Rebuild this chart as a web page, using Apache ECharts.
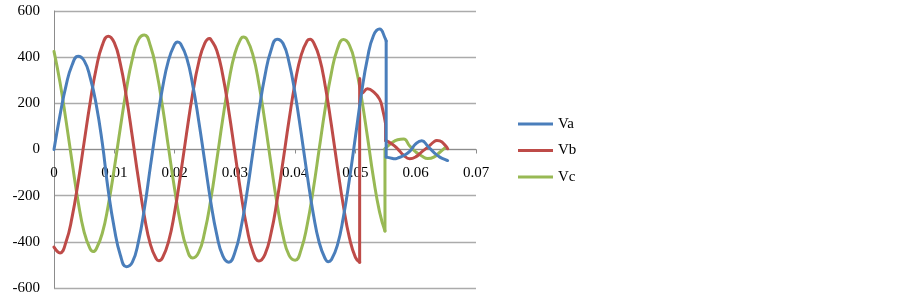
<!DOCTYPE html>
<html>
<head>
<meta charset="utf-8">
<script src="https://cdn.jsdelivr.net/npm/echarts@6/dist/echarts.min.js"></script>
<style>html,body{margin:0;padding:0;background:#fff}#c{width:902px;height:297px}</style>
</head>
<body>
<div id="c"></div>
<script>
const seriesNames = ['Va', 'Vb', 'Vc'];
const xTicks = [0, 0.01, 0.02, 0.03, 0.04, 0.05, 0.06, 0.07];
const yTicks = [-600, -400, -200, 0, 200, 400, 600];

const tVa = [0,0.001,0.002,0.003,0.004,0.005,0.006,0.007,0.008,0.009,0.010,0.011,0.012,0.013,0.014,0.015,0.016,0.017,0.018,0.019,0.020,0.0205,0.021,0.022,0.023,0.024,0.025,0.026,0.027,0.028,0.029,0.030,0.031,0.032,0.033,0.034,0.035,0.036,0.037,0.038,0.039,0.040,0.041,0.042,0.043,0.044,0.045,0.0455,0.046,0.047,0.048,0.049,0.050,0.051,0.052,0.053,0.054,0.055,0.0551,0.0551,0.056,0.0565,0.057,0.058,0.059,0.060,0.061,0.062,0.063,0.064,0.065,0.0653];
const va = [0,149,277,366,404,385,312,195,30,-178,-341,-457,-508,-488,-400,-255,-72,106,266,387,455,466,458,398,281,125,-51,-226,-369,-461,-488,-446,-342,-189,-10,168,321,430,478,459,376,240,70,-111,-277,-404,-474,-486,-478,-415,-293,-130,55,242,396,494,522,478,470,-33,-38,-40,-37,-26,-8,24,38,14,-12,-33,-45,-48];

const tVb = [0,0.001,0.002,0.003,0.004,0.005,0.006,0.007,0.008,0.009,0.010,0.011,0.012,0.013,0.014,0.015,0.016,0.017,0.0174,0.018,0.019,0.020,0.021,0.022,0.023,0.024,0.025,0.0258,0.026,0.027,0.028,0.029,0.030,0.031,0.032,0.033,0.034,0.035,0.036,0.037,0.038,0.039,0.040,0.041,0.042,0.0425,0.043,0.044,0.045,0.046,0.047,0.048,0.049,0.050,0.0507,0.0507,0.0512,0.052,0.053,0.054,0.0545,0.055,0.055,0.056,0.057,0.058,0.059,0.060,0.061,0.062,0.063,0.0635,0.064,0.065,0.0653];
const vb = [-423,-448,-400,-293,-142,32,204,351,451,491,463,372,229,54,-127,-290,-412,-475,-482,-469,-399,-273,-108,72,241,377,460,481,478,429,321,166,-12,-189,-339,-443,-483,-454,-363,-221,-49,130,290,409,471,478,466,400,274,108,-73,-244,-382,-467,-488,306,245,263,250,218,175,112,39,25,3,-25,-40,-32,-10,10,33,39,37,15,3];

const tVc = [0,0.001,0.002,0.003,0.004,0.005,0.006,0.0065,0.007,0.008,0.009,0.010,0.011,0.012,0.013,0.014,0.015,0.016,0.017,0.018,0.019,0.020,0.021,0.022,0.023,0.024,0.025,0.026,0.027,0.028,0.029,0.030,0.031,0.0314,0.032,0.033,0.034,0.035,0.036,0.037,0.038,0.039,0.040,0.041,0.042,0.043,0.044,0.045,0.046,0.047,0.048,0.049,0.050,0.051,0.052,0.053,0.054,0.0549,0.0549,0.056,0.057,0.058,0.059,0.060,0.061,0.062,0.063,0.064,0.065];
const vc = [425,290,124,-54,-225,-358,-431,-442,-431,-364,-242,-82,93,259,393,476,496,448,340,186,7,-170,-322,-427,-470,-446,-357,-218,-46,133,294,416,480,487,477,409,283,118,-63,-235,-374,-459,-480,-433,-326,-174,4,180,330,434,476,452,364,225,54,-125,-270,-353,3,28,42,45,15,-10,-28,-39,-33,-12,10];

const colors = ['#4a7ebb', '#be4b48', '#98b954'];
const times = [tVa, tVb, tVc];
const vals = [va, vb, vc];

// Split each trace at its jumps (two samples with the same time):
// smooth pieces are separated by null, the jumps are straight segments.
function build(t, v) {
  const smoothData = [], jumps = [];
  for (let i = 0; i < t.length; i++) {
    if (i > 0 && t[i] === t[i - 1]) {
      smoothData.push(null);
      jumps.push([[t[i - 1], v[i - 1]], [t[i], v[i]]]);
    }
    smoothData.push([t[i], v[i]]);
  }
  return {smoothData, jumps};
}

const series = [];
seriesNames.forEach((n, i) => {
  const b = build(times[i], vals[i]);
  series.push({
    name: n, type: 'line', data: b.smoothData, connectNulls: false,
    showSymbol: false, smooth: 0.5,
    lineStyle: {color: colors[i], width: 3, cap: 'round', join: 'round'},
    itemStyle: {color: colors[i]}, z: 5 - i
  });
  b.jumps.forEach(seg => series.push({
    name: n, type: 'line', data: seg, showSymbol: false, smooth: false,
    lineStyle: {color: colors[i], width: 3, cap: 'round'},
    itemStyle: {color: colors[i]}, z: 5 - i
  }));
});

const chart = echarts.init(document.getElementById('c'), null, {renderer: 'canvas'});
const font = '"Liberation Serif", "Times New Roman", serif';
chart.setOption({
  animation: false,
  backgroundColor: '#fff',
  grid: {left: 54, right: 426, top: 11, bottom: 9, containLabel: false},
  xAxis: {
    type: 'value', min: xTicks[0], max: xTicks[xTicks.length - 1], interval: 0.01,
    offset: -138.5,
    axisLine: {onZero: false, lineStyle: {color: '#8c8c8c', width: 1}},
    axisTick: {show: true, inside: false, length: 4, lineStyle: {color: '#8c8c8c'}},
    splitLine: {show: false},
    axisLabel: {color: '#000', fontFamily: font, fontSize: 15, margin: 16,
      formatter: v => String(parseFloat(v.toFixed(2)))}
  },
  yAxis: {
    type: 'value', min: yTicks[0], max: yTicks[yTicks.length - 1], interval: 200,
    axisLine: {show: true, lineStyle: {color: '#8c8c8c', width: 1}},
    axisTick: {show: false},
    splitLine: {show: true, lineStyle: {color: '#ababab', width: 1.3}},
    axisLabel: {color: '#000', fontFamily: font, fontSize: 15, margin: 14}
  },
  legend: {
    orient: 'vertical', left: 513, top: 111,
    itemWidth: 35, itemHeight: 3, itemGap: 10.5, icon: 'rect',
    textStyle: {color: '#000', fontFamily: font, fontSize: 15, lineHeight: 16},
    data: seriesNames
  },
  series
});
</script>
</body>
</html>
